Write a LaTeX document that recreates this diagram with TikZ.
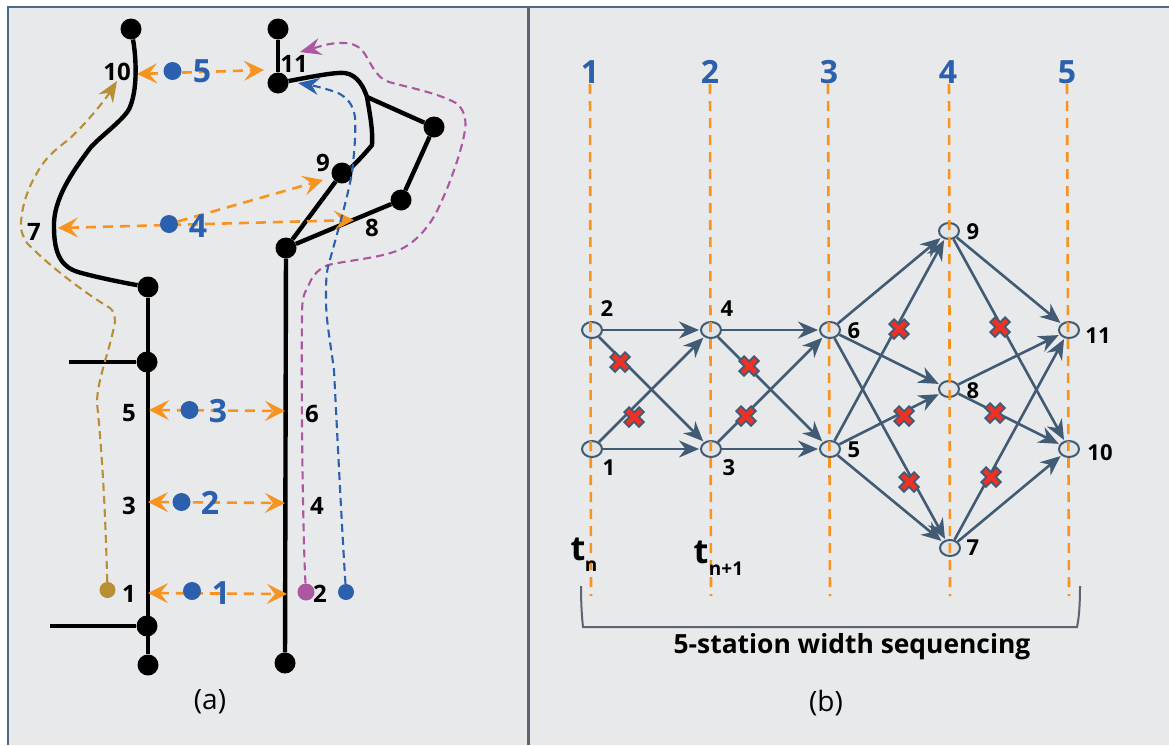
\documentclass[tikz,border=0pt]{standalone}
\usepackage{fontspec}
\setmainfont{Open Sans}
\usetikzlibrary{arrows.meta,shapes.geometric}
\definecolor{panelgray}{HTML}{E7E9EB}
\definecolor{framegray}{HTML}{4F6A85}
\definecolor{dividergray}{HTML}{5C6570}
\definecolor{roadorange}{HTML}{F7931E}
\definecolor{stationblue}{HTML}{2B60AE}
\definecolor{pathgold}{HTML}{B98F36}
\definecolor{pathpurple}{HTML}{AB57A2}
\definecolor{edgeslate}{HTML}{425B75}
\definecolor{crossred}{HTML}{EE3124}
\tikzset{
  px/.style={x=1pt,y=-1pt},
  road/.style={line width=4.4pt,black},
  junction/.style={circle,fill=black,inner sep=0pt,minimum size=21pt},
  stationdot/.style={circle,fill=stationblue,inner sep=0pt,minimum size=18pt},
  gapline/.style={roadorange,line width=2.6pt,dash pattern=on 10pt off 7pt,
    <->,>={Stealth[length=20pt,width=20pt,inset=8pt]}},
  pathline/.style={line width=2.1pt,dash pattern=on 8pt off 5pt,
    -{Stealth[length=21pt,width=17pt,inset=7pt]}},
  numlabel/.style={font=\fontsize{22pt}{22pt}\selectfont\bfseries,inner sep=0pt},
  biglabel/.style={font=\fontsize{24pt}{24pt}\selectfont\bfseries,inner sep=0pt},
  bluelabel/.style={font=\fontsize{32pt}{32pt}\selectfont\bfseries,text=stationblue,inner sep=0pt},
  caption/.style={font=\fontsize{28pt}{28pt}\selectfont,inner sep=0pt},
  grid/.style={roadorange,line width=2.6pt,dash pattern=on 10pt off 7pt},
  vertex/.style={ellipse,draw=edgeslate,line width=2pt,fill=panelgray!95!gray,inner sep=0pt,minimum width=20pt,minimum height=16pt},
  arc/.style={edgeslate,line width=2.6pt,-{Stealth[length=20pt,width=17pt]},shorten >=1pt},
  xmark/.pic={
    \draw[edgeslate,line width=8.5pt,line cap=rect] (-5,-5) -- (5,5) (-5,5) -- (5,-5);
    \draw[crossred,line width=4.6pt,line cap=rect] (-5,-5) -- (5,5) (-5,5) -- (5,-5);
  }
}
\begin{document}
\begin{tikzpicture}[px]
  \useasboundingbox (0,0) rectangle (1169,745);

  % Paneles
  \fill[panelgray] (8,7) rectangle (1169,745);
  \draw[framegray,line width=1.6pt] (8,745) -- (8,7);
  \draw[framegray,line width=2pt] (7,7) -- (1169,7);
  \draw[dividergray,line width=2.4pt] (528.5,7) -- (528.5,745);

  % Vias (a)
  \node[junction] (la) at (131,29) {};
  \node[junction] (lb) at (148,287) {};
  \node[junction] (lc) at (147,362) {};
  \node[junction] (ld) at (147,626) {};
  \node[junction] (le) at (148,665) {};
  \coordinate (lstuba) at (69,362);
  \coordinate (lstubb) at (50,626);
  \node[junction] (ra) at (278,29) {};
  \node[junction] (rb) at (278,83) {};
  \node[junction] (rc) at (434,127) {};
  \node[junction] (rd) at (401,200) {};
  \node[junction] (re) at (342,173) {};
  \node[junction] (rf) at (286,248) {};
  \node[junction] (rg) at (285,663) {};
  \coordinate (rbend) at (367,97);

  \draw[road] (la) .. controls (135,50) and (139,85) .. (130,107)
     .. controls (126,118) and (102,135) .. (91,147)
     .. controls (72,172) and (53,200) .. (54,227)
     .. controls (54,255) and (62,267) .. (78,272)
     .. controls (95,277) and (125,283) .. (lb);
  \draw[road] (lb) -- (le);
  \draw[road] (lstuba) -- (lc);
  \draw[road] (lstubb) -- (ld);
  \draw[road] (ra) -- (rb);
  \draw[road] (rb) .. controls (310,77) and (335,72) .. (345,73)
     .. controls (358,75) and (364,88) .. (rbend)
     .. controls (370,115) and (373,130) .. (372,145)
     .. controls (364,155) and (352,167) .. (re);
  \draw[road] (rbend) -- (rc) -- (rd) -- (rf) -- (re);
  \draw[road] (rf) -- (rg);

  % Estaciones
  \coordinate (sal) at (148,593);
  \coordinate (sar) at (287,594);
  \coordinate (sbl) at (148,502);
  \coordinate (sbr) at (285,503);
  \coordinate (scl) at (149,410);
  \coordinate (scr) at (285,411);
  \coordinate (sdl) at (58,228);
  \coordinate (sdr) at (323,180);
  \coordinate (sds) at (354,220);
  \coordinate (sel) at (137,74);
  \coordinate (ser) at (264,70);
  \draw[gapline] (sal) -- (sar);
  \draw[gapline] (sbl) -- (sbr);
  \draw[gapline] (scl) -- (scr);
  \draw[gapline] (sdl) -- (sds);
  \node[stationdot] (sd) at (169,224) {};
  \draw[gapline,-{Stealth[length=20pt,width=20pt,inset=8pt]}] (sd) -- (sdr);
  \draw[gapline] (sel) -- (ser);
  \node[stationdot] (sa) at (192,591) {};
  \node[stationdot] (sb) at (181.5,502) {};
  \node[stationdot] (sc) at (189.5,410) {};
  \node[stationdot] (se) at (172.5,71) {};
  \foreach \name/\txt/\where in {a/1/{221,593},b/2/{210,503},c/3/{218,411},d/4/{198,226},e/5/{202,71}}
    \node[bluelabel] (lab\name) at (\where) {\txt};

  % Trayectorias
  \node[circle,fill=pathgold,inner sep=0pt,minimum size=16pt] (gold) at (107.5,590) {};
  \node[circle,fill=pathpurple,inner sep=0pt,minimum size=17pt] (purple) at (306,592) {};
  \node[stationdot,minimum size=16pt] (bluedot) at (346,592) {};
  \coordinate (goldend) at (117,81);
  \coordinate (purpleend) at (300,52);
  \coordinate (blueend) at (298,83);
  \draw[pathline,pathgold] (gold) .. controls (106,540) and (104,470) .. (97,403)
     .. controls (97,380) and (110,350) .. (115,322) .. controls (115,315) and (113,310) .. (110,308)
     .. controls (80,290) and (45,262) .. (27,243) .. controls (22,235) and (20,228) .. (21,223)
     .. controls (22,205) and (28,188) .. (37,173) .. controls (45,158) and (55,150) .. (68,140)
     .. controls (85,125) and (105,100) .. (goldend);
  \draw[pathline,pathpurple] (purple) .. controls (303,540) and (301,400) .. (302,317)
     .. controls (302,300) and (303,295) .. (308,287) .. controls (312,275) and (320,268) .. (328,265)
     .. controls (350,260) and (380,258) .. (399,250) .. controls (415,243) and (428,228) .. (436,213)
     .. controls (450,185) and (462,150) .. (465,130) .. controls (467,118) and (463,108) .. (456,103)
     .. controls (435,92) and (410,88) .. (389,82) .. controls (375,78) and (370,60) .. (362,50)
     .. controls (357,45) and (350,43) .. (345,43) .. controls (330,42) and (315,48) .. (purpleend);
  \draw[pathline,stationblue] (bluedot) .. controls (342,530) and (338,450) .. (334,370)
     .. controls (330,340) and (326,320) .. (326,300) .. controls (326,285) and (326,275) .. (328,267)
     .. controls (338,230) and (347,200) .. (352,173) .. controls (354,155) and (356,135) .. (355,117)
     .. controls (353,105) and (348,98) .. (338,93) .. controls (325,88) and (310,85) .. (blueend);

  % Etiquetas (a)
  \foreach \name/\txt/\where in {ia/1/{129,594},ib/2/{320,594},ic/3/{129,506},id/4/{317,506},ie/5/{129,413},if/6/{312,414},ig/7/{34,232},ih/8/{372,228},ii/9/{323,163},ij/10/{117,72},ik/11/{294,64}}
    \node[biglabel] (\name) at (\where) {\txt};
  \node[caption] (capa) at (210,702) {(a)};

  % Grafo (b)
  \foreach \name/\where in {n1/{592,449},n2/{592,330},n3/{711,449},n4/{711,330},n5/{830,449},n6/{830,330},n7/{950,548},n8/{949,389},n9/{949,231},n10/{1069,449},n11/{1069,330}}
    \node[vertex] (\name) at (\where) {};
  \foreach \a/\b in {n2/n4,n4/n6,n1/n3,n3/n5,n2/n3,n1/n4,n4/n5,n3/n6,n6/n9,n5/n9,n6/n8,n5/n8,n6/n7,n5/n7,n9/n11,n9/n10,n8/n11,n8/n10,n7/n11,n7/n10}
    \draw[arc] (\a) -- (\b);

  % Rejilla (b)
  \foreach \xa/\xb in {590/591,710/711,828/830,949/950,1067/1069}
    \draw[grid] (\xa,84) -- (\xb,596);
  \foreach \name/\txt/\where in {ta/1/590,tb/2/710,tc/3/829,td/4/948,te/5/1067}
    \node[bluelabel] (\name) at (\where,72) {\txt};

  \foreach \where in {{620,362},{634,417},{749,366},{746,416},{899,329},{1000,327},{904,416},{995,413},{909,482},{991,477}}
    \pic at (\where) {xmark};
  \foreach \name/\txt/\where in {ma/1/{609,468},mb/2/{607,309},mc/3/{729,468},md/4/{727,309},me/5/{854,450},mf/6/{854,331},mg/7/{973,548},mh/8/{973,391},mi/9/{973,232},mj/10/{1100,453},mk/11/{1098,336}}
    \node[numlabel] (\name) at (\where) {\txt};

  % Tiempos y llave
  \node[inner sep=0pt,font=\fontsize{34pt}{34pt}\selectfont\bfseries] (tn) at (578,549) {t};
  \node[inner sep=0pt,font=\fontsize{19pt}{19pt}\selectfont\bfseries] (subn) at (591,566) {n};
  \node[inner sep=0pt,font=\fontsize{34pt}{34pt}\selectfont\bfseries] (tnn) at (701,552) {t};
  \node[inner sep=0pt,font=\fontsize{19pt}{19pt}\selectfont\bfseries] (subnn) at (726,569) {n+1};
  \coordinate (bl) at (581,586);
  \coordinate (br) at (1080,586);
  \draw[dividergray,line width=2pt] (bl) .. controls (581,605) and (582,618) .. (583,627) -- (1077,627) .. controls (1079,618) and (1080,605) .. (br);
  \node[inner sep=0pt,font=\fontsize{26.4pt}{26.4pt}\selectfont\bfseries] (capseq) at (852,647) {5-station width sequencing};
  \node[caption] (capb) at (826,703) {(b)};
\end{tikzpicture}
\end{document}
